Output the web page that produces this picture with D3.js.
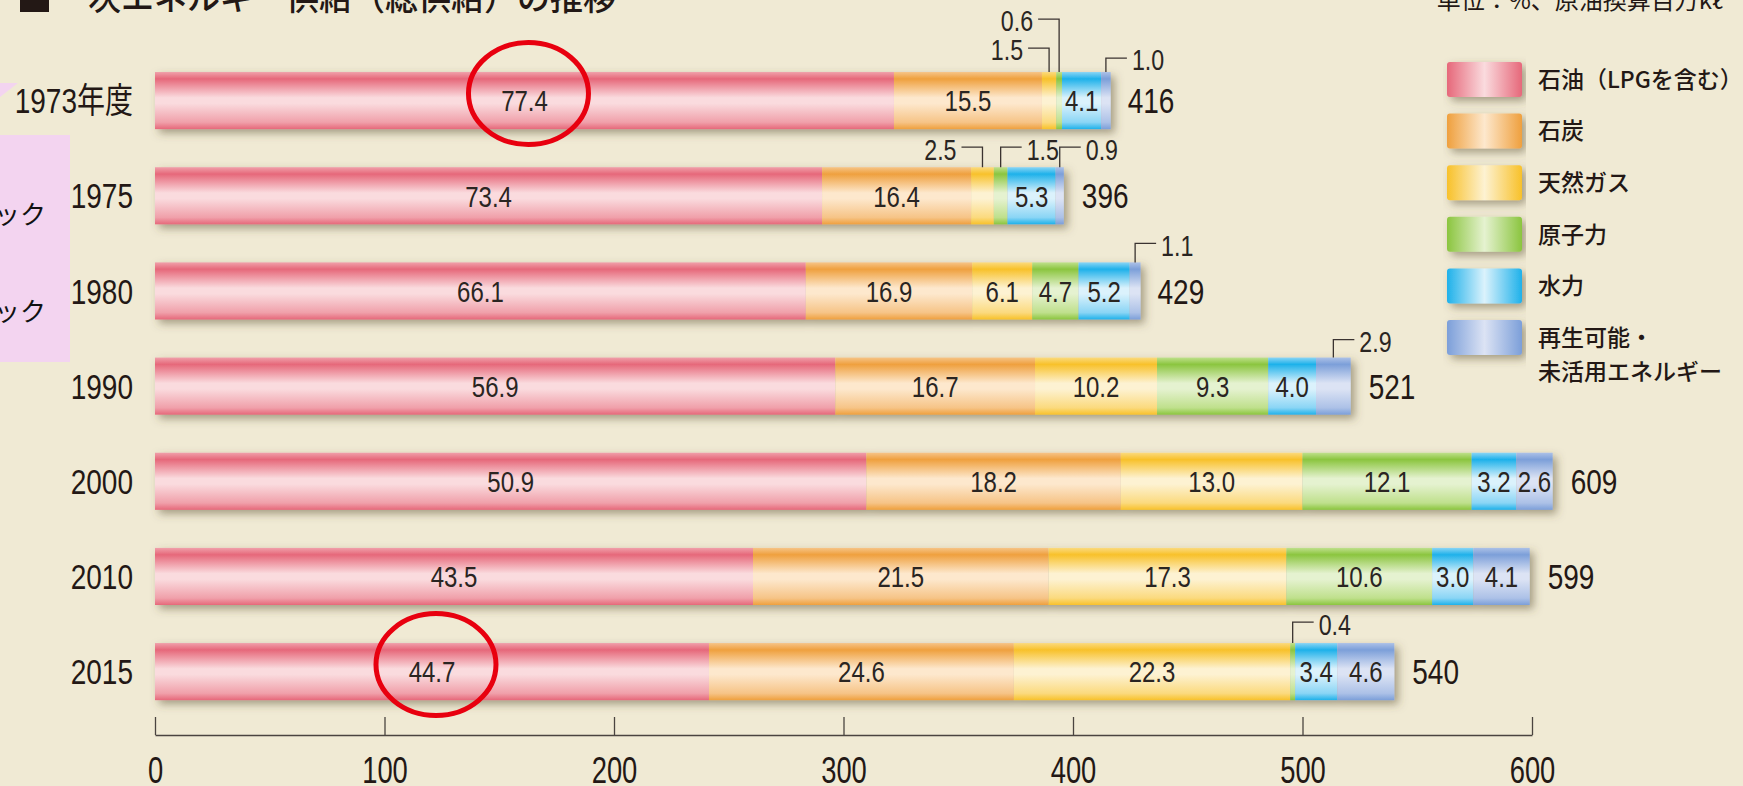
<!DOCTYPE html>
<html>
<head>
<meta charset="utf-8">
<script src="https://cdn.jsdelivr.net/npm/d3@7"></script>
<style>
  body { margin: 0; background: #f0ead4; overflow: hidden; }
</style>
</head>
<body>
<div id="chart-area"></div>
<script>
// data (% shares per year, total in 原油換算百万kl)
var years = ["1973年度", "1975", "1980", "1990", "2000", "2010", "2015"];
var seriesNames = ["石油（LPGを含む）", "石炭", "天然ガス", "原子力", "水力", "再生可能・", "未活用エネルギー"];
var oil     = [77.4, 73.4, 66.1, 56.9, 50.9, 43.5, 44.7];
var coal    = [15.5, 16.4, 16.9, 16.7, 18.2, 21.5, 24.6];
var gas     = [1.5, 2.5, 6.1, 10.2, 13.0, 17.3, 22.3];
var nuclear = [0.6, 1.5, 4.7, 9.3, 12.1, 10.6, 0.4];
var hydro   = [4.1, 5.3, 5.2, 4.0, 3.2, 3.0, 3.4];
var renew   = [1.0, 0.9, 1.1, 2.9, 2.6, 4.1, 4.6];
var totals  = [416, 396, 429, 521, 609, 599, 540];
var tickValues = [0, 100, 200, 300, 400, 500, 600];

// small shares drawn outside with a leader line: [year index, series index, side, rise]
var callouts = [
    [0, 3, "left", 53], [0, 2, "left", 24], [0, 5, "right", 14],
    [1, 2, "left", 20], [1, 3, "right", 20], [1, 5, "right", 20],
    [2, 5, "right", 19],
    [3, 5, "right", 18],
    [6, 3, "right", 21]
];
// oil values circled in red: [year index, series index]
var circled = [[0, 0], [6, 0]];

var svg_width = 1743;
var svg_height = 786;
var NUM_FONT = "'Liberation Sans', Arial, 'Noto Sans CJK JP', sans-serif";
var JP_FONT = "'Noto Sans CJK JP', 'Noto Sans CJK SC', sans-serif";
var SX = 0.8; // horizontal squeeze for the condensed figures

// gradient colours: edge, mid, light
var colors = [
    ["#e6687a", "#f0a0aa", "#fadbde"],
    ["#efa03e", "#f6c487", "#fde8cd"],
    ["#f8c12a", "#fbda7e", "#fdf2d2"],
    ["#8bc53f", "#bfe08c", "#e5f2d0"],
    ["#1eb1ea", "#8ad5f5", "#dbf2fc"],
    ["#7c9fd9", "#acc1e7", "#dce3f4"]
];

var allSeries = [oil, coal, gas, nuclear, hydro, renew];

var svg = d3.select("#chart-area").append("svg")
    .attr("width", svg_width)
    .attr("height", svg_height)
    .style("display", "block");

svg.append("rect").attr("width", svg_width).attr("height", svg_height).attr("fill", "#f0ead4");

// condensed number text at (x, y)
function numText(parent, px, py, size, anchor) {
    return parent.append("g")
        .attr("transform", "translate(" + px + "," + py + ") scale(" + SX + ",1)")
        .append("text")
        .attr("dy", "0.36em")
        .attr("text-anchor", anchor)
        .attr("font-family", NUM_FONT)
        .attr("font-size", size)
        .attr("fill", "#231815");
}

var defs = svg.append("defs");
colors.forEach((c, i) => {
    var g = defs.append("linearGradient").attr("id", "gv" + i)
        .attr("x1", 0).attr("y1", 0).attr("x2", 0).attr("y2", 1);
    [[0, c[1]], [0.12, c[0]], [0.45, c[2]], [0.55, c[2]], [0.88, c[1]], [1, c[0]]].forEach((s) => {
        g.append("stop").attr("offset", s[0]).attr("stop-color", s[1]);
    });
    var h = defs.append("linearGradient").attr("id", "gh" + i)
        .attr("x1", 0).attr("y1", 0).attr("x2", 1).attr("y2", 0);
    [[0, c[0]], [0.5, c[2]], [1, c[0]]].forEach((s) => {
        h.append("stop").attr("offset", s[0]).attr("stop-color", s[1]);
    });
});
var f = defs.append("filter").attr("id", "shadow")
    .attr("x", "-5%").attr("y", "-30%").attr("width", "110%").attr("height", "170%");
f.append("feDropShadow").attr("dx", 4).attr("dy", 4).attr("stdDeviation", 4)
    .attr("flood-color", "#5a5030").attr("flood-opacity", 0.5);

// title (top clipped as in the source)
svg.append("rect").attr("x", 20).attr("y", -17).attr("width", 29).attr("height", 29).attr("fill", "#231815");
svg.append("text").attr("x", 55).attr("y", 10)
    .attr("font-family", JP_FONT).attr("font-size", 33).attr("font-weight", 500).attr("fill", "#231815")
    .text("一次エネルギー供給（総供給）の推移");
svg.append("text").attr("x", 1723).attr("y", 9).attr("text-anchor", "end")
    .attr("font-family", JP_FONT).attr("font-size", 24).attr("fill", "#231815")
    .text("単位：%、原油換算百万kℓ");

// left side note box
svg.append("rect").attr("x", 0).attr("y", 135).attr("width", 70).attr("height", 227).attr("fill", "#f3d4f0");
svg.append("polygon").attr("points", "0,83 18,83 0,97").attr("fill", "#f3d4f0");
[["第1次オイルショック", 215], ["第2次オイルショック", 312]].forEach((t) => {
    svg.append("text").attr("x", 46).attr("y", t[1]).attr("dy", "0.35em").attr("text-anchor", "end")
        .attr("font-family", JP_FONT).attr("font-size", 26).attr("fill", "#111").text(t[0]);
});

var x = d3.scaleLinear()
    .domain([0, 600])
    .range([155, 1532]);

var y = d3.scaleBand()
    .domain(years)
    .range([53, 719.2])
    .paddingInner(0.4)
    .paddingOuter(0.2);

// stacked rows
var rows = years.map((yr, i) => {
    var cum = 0;
    var segs = allSeries.map((s, k) => {
        var seg = { k: k, v: s[i], x0: x(totals[i] * cum / 100) };
        cum += s[i];
        seg.x1 = x(totals[i] * cum / 100);
        return seg;
    });
    return { year: yr, i: i, segs: segs };
});

var rowG = svg.selectAll("g.row").data(rows).enter().append("g")
    .attr("class", "row")
    .attr("transform", (d) => "translate(0," + y(d.year) + ")");

rowG.append("g").attr("filter", "url(#shadow)")
    .selectAll("rect").data((d) => d.segs).enter().append("rect")
    .attr("x", (d) => d.x0)
    .attr("y", 0)
    .attr("width", (d) => Math.max(0, d.x1 - d.x0))
    .attr("height", y.bandwidth())
    .attr("fill", (d) => "url(#gv" + d.k + ")");

var isCallout = (i, k) => callouts.some((c) => c[0] === i && c[1] === k);

rowG.each(function (row) {
    var g = d3.select(this);
    row.segs.filter((s) => !isCallout(row.i, s.k)).forEach((s) => {
        numText(g, (s.x0 + s.x1) / 2, y.bandwidth() / 2, 30, "middle")
            .attr("fill", "#2a2522")
            .text(s.v.toFixed(1));
    });
    numText(g, x(totals[row.i]) + 18, y.bandwidth() / 2, 35, "start")
        .text(totals[row.i]);
});

// leader lines for thin segments
callouts.forEach((c) => {
    var seg = rows[c[0]].segs[c[1]];
    var top = y(years[c[0]]);
    var mx = (seg.x0 + seg.x1) / 2;
    var ly = top - c[3];
    var dir = c[2] === "left" ? -1 : 1;
    svg.append("path")
        .attr("d", "M" + mx + "," + top + "V" + ly + "H" + (mx + dir * 21))
        .attr("fill", "none").attr("stroke", "#3a3330").attr("stroke-width", 1.3);
    numText(svg, mx + dir * 26, ly + 2, 29, dir < 0 ? "end" : "start")
        .attr("fill", "#2a2522")
        .text(seg.v.toFixed(1));
});

// red highlight rings
circled.forEach((c) => {
    var seg = rows[c[0]].segs[c[1]];
    svg.append("ellipse")
        .attr("cx", (seg.x0 + seg.x1) / 2 + 4)
        .attr("cy", y(years[c[0]]) + y.bandwidth() / 2 - 7)
        .attr("rx", 60).attr("ry", 51)
        .attr("fill", "none").attr("stroke", "#e8000f").attr("stroke-width", 5);
});

// category labels
years.forEach((d) => {
    numText(svg, 133, y(d) + y.bandwidth() / 2, 35, "end").text(d);
});

// x axis
var axis = svg.append("g")
    .attr("transform", "translate(0,735)")
    .call(d3.axisBottom(x).tickValues(tickValues).tickSizeInner(-18).tickSizeOuter(0).tickPadding(22));
axis.select(".domain").attr("stroke", "#4a4440").attr("stroke-width", 1.6);
axis.selectAll(".tick line").attr("stroke", "#4a4440").attr("stroke-width", 1.3);
axis.selectAll(".tick text")
    .attr("font-family", NUM_FONT).attr("font-size", 37).attr("fill", "#231815")
    .attr("transform", "scale(0.74,1)");

// legend
var legendNames = seriesNames.slice(0, 6);
var legend = svg.selectAll("g.leg").data(legendNames).enter().append("g")
    .attr("class", "leg")
    .attr("transform", (d, i) => "translate(1447," + (62 + i * 51.6) + ")");
legend.append("rect").attr("width", 75).attr("height", 35).attr("rx", 3)
    .attr("fill", (d, i) => "url(#gh" + i + ")").attr("filter", "url(#shadow)");
legend.append("text").attr("x", 91).attr("y", 17.5).attr("dy", "0.36em")
    .attr("font-family", JP_FONT).attr("font-size", 23).attr("font-weight", 500).attr("fill", "#231815")
    .text((d) => d);
svg.append("text").attr("x", 1538).attr("y", 62 + 5 * 51.6 + 52).attr("dy", "0.36em")
    .attr("font-family", JP_FONT).attr("font-size", 23).attr("font-weight", 500).attr("fill", "#231815")
    .text(seriesNames[6]);
</script>
</body>
</html>
